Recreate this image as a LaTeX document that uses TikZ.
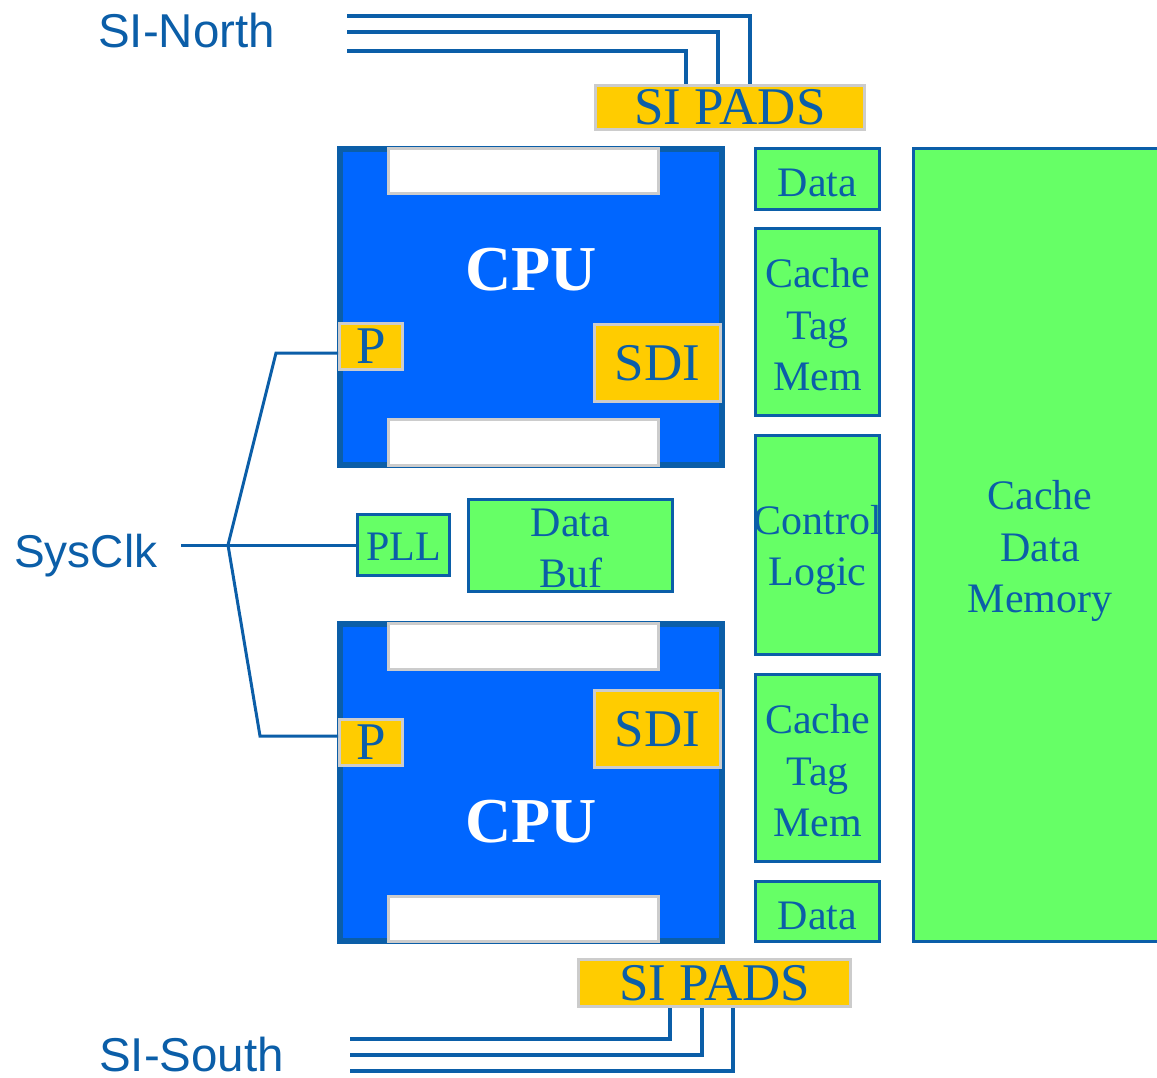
\documentclass[tikz,border=0pt]{standalone}
\usepackage{fontspec}
\setmainfont{Liberation Serif}
\newfontfamily\arialf{Liberation Sans}
\definecolor{lineblue}{HTML}{0B5EA8}
\definecolor{cpublue}{HTML}{0066FF}
\definecolor{padyellow}{HTML}{FFCC00}
\definecolor{boxgreen}{HTML}{66FF66}
\definecolor{padgray}{HTML}{CCCCCC}
\begin{document}
\begin{tikzpicture}[x=1pt,y=-1pt,
  wire/.style={draw=lineblue,line width=3.5},
  cpubox/.style={draw=lineblue,fill=cpublue,line width=6,minimum width=382,inner sep=0},
  slot/.style={draw=padgray,fill=white,line width=3,minimum width=270,inner sep=0},
  pad/.style={draw=padgray,fill=padyellow,line width=3,inner sep=0,text=lineblue,font=\fontsize{53}{60}\selectfont},
  gbox/.style={draw=lineblue,fill=boxgreen,line width=3,inner sep=0},
  gtext/.style={inner sep=0,text=lineblue,align=center,font=\fontsize{42}{51.5}\selectfont},
  lbl/.style={text=lineblue,font=\arialf\fontsize{47.5}{50}\selectfont,inner sep=0},
  cpulbl/.style={text=white,font=\bfseries\fontsize{64}{70}\selectfont,inner sep=0}]
\useasboundingbox (0,0) rectangle (1157,1077);
\clip (0,0) rectangle (1157,1077);

% labels
\node[lbl,anchor=base west] (sin) at (98,47) {SI-North};
\node[lbl,anchor=base west,font=\arialf\fontsize{46}{50}\selectfont] (clk) at (14,567) {SysClk};
\node[lbl,anchor=base west] (sis) at (99,1071.5) {SI-South};

% pads
\node[pad,minimum width=269,minimum height=44] (padN) at (730,107.5) {SI PADS};
\node[pad,minimum width=272,minimum height=47] (padS) at (714.5,983) {SI PADS};

% CPU 1
\node[cpubox,minimum height=316] (cpu1) at (531,307) {};
\node[cpulbl] (cpu1t) at (531,270) {CPU};
\node[slot,minimum height=45] (slot1a) at (523.5,171) {};
\node[slot,minimum height=46] (slot1b) at (523.5,442.5) {};
\node[pad,minimum width=63,minimum height=46] (p1) at (371,346.5) {P};
\node[pad,minimum width=126,minimum height=77] (sdi1) at (657.5,363) {SDI};

% CPU 2
\node[cpubox,minimum height=317] (cpu2) at (531,782.5) {};
\node[cpulbl] (cpu2t) at (531,822) {CPU};
\node[slot,minimum height=46] (slot2a) at (523.5,646.5) {};
\node[slot,minimum height=45] (slot2b) at (523.5,919) {};
\node[pad,minimum width=63,minimum height=46] (p2) at (371,742.5) {P};
\node[pad,minimum width=126,minimum height=77] (sdi2) at (657.5,729) {SDI};

% middle
\node[gbox,minimum width=92,minimum height=61] (pll) at (403.5,545) {};
\node[gtext] (pllt) at ([yshift=-2]pll.center) {PLL};
\node[gbox,minimum width=204,minimum height=92] (dbuf) at (570.5,545.5) {};
\node[gtext] (dbuft) at ([yshift=-3]dbuf.center) {Data\\Buf};

% right column
\node[gbox,minimum width=124,minimum height=61] (data1) at (817.5,179) {};
\node[gtext] (data1t) at ([yshift=-4]data1.center) {Data};
\node[gbox,minimum width=124,minimum height=187] (ctm1) at (817.5,322) {};
\node[gtext] (ctm1t) at ([yshift=-3]ctm1.center) {Cache\\Tag\\Mem};
\node[gbox,minimum width=124,minimum height=219] (cl) at (817.5,545) {};
\node[gtext] (clt) at ([yshift=-5]cl.center) {Control\\Logic};
\node[gbox,minimum width=124,minimum height=187] (ctm2) at (817.5,768) {};
\node[gtext] (ctm2t) at ([yshift=-3]ctm2.center) {Cache\\Tag\\Mem};
\node[gbox,minimum width=124,minimum height=60] (data2) at (817.5,911.5) {};
\node[gtext] (data2t) at ([yshift=-4]data2.center) {Data};
\node[gbox,minimum width=253,minimum height=793] (cdm) at (1040,545) {};
\node[gtext] (cdmt) at ([yshift=-6]cdm.center) {Cache\\Data\\Memory};

% clock wiring
\coordinate (clkin) at (181,545);
\coordinate (br) at (228,545);
\coordinate (up) at (276,353);
\coordinate (lo) at (260,736);
\draw[wire,line width=3] (clkin) -- (pll.west);
\draw[wire,line width=3] (br) -- (up) -- (up -| p1.west);
\draw[wire,line width=3] (br) -- (lo) -- (lo -| p2.west);

% north wiring
\coordinate (n1) at (347,16);
\coordinate (n2) at (347,32);
\coordinate (n3) at (347,51);
\draw[wire] (n1) -| ([xshift=20]padN.north);
\draw[wire] (n2) -| ([xshift=-12]padN.north);
\draw[wire] (n3) -| ([xshift=-44]padN.north);

% south wiring
\coordinate (s1) at (350,1039);
\coordinate (s2) at (350,1055);
\coordinate (s3) at (350,1071);
\draw[wire] ([xshift=-44.5]padS.south) |- (s1);
\draw[wire] ([xshift=-12.5]padS.south) |- (s2);
\draw[wire] ([xshift=18.5]padS.south) |- (s3);
\end{tikzpicture}
\end{document}
